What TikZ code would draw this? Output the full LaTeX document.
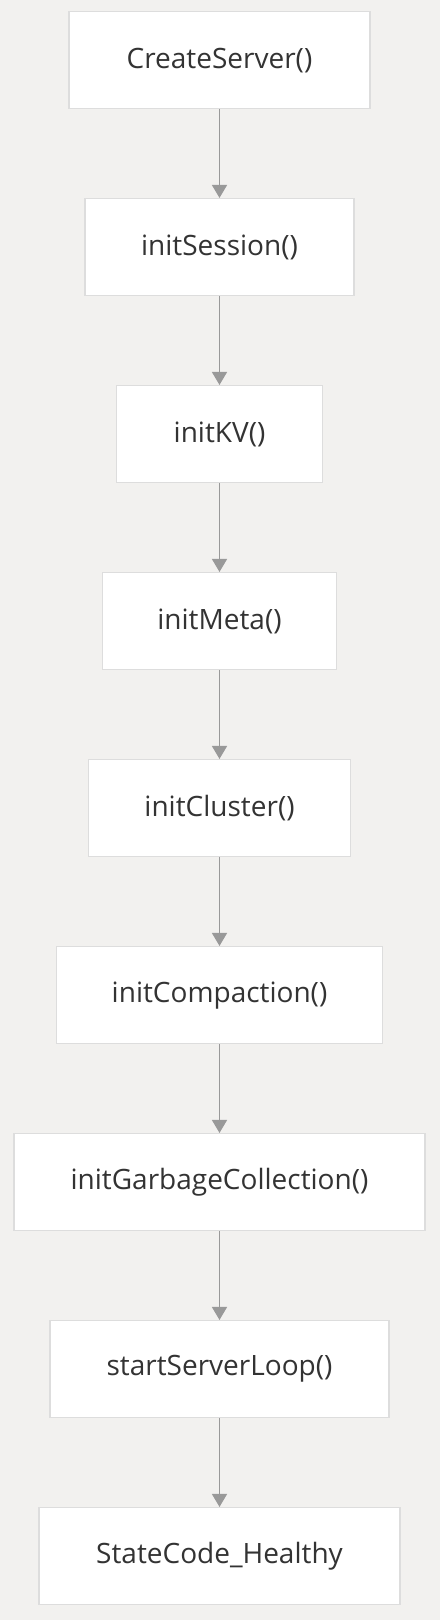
\documentclass[tikz,border=0pt]{standalone}
\usepackage{fontspec}
\setmainfont{Open Sans}
\usetikzlibrary{arrows.meta}
\definecolor{bgcol}{HTML}{F2F1EF}
\definecolor{boxline}{HTML}{DDDDDD}
\definecolor{arrowcol}{HTML}{999999}
\definecolor{txtcol}{HTML}{333333}
\begin{document}
\begin{tikzpicture}[x=1pt,y=1pt,
  stepbox/.style={draw=boxline, line width=1.5pt, fill=white, minimum height=97pt,
    inner sep=0pt, text=txtcol, font=\fontsize{28}{33}\selectfont},
  flow/.style={draw=arrowcol, line width=1.5pt, -{Triangle[width=15pt,length=13pt]}}]
\fill[bgcol] (0,0) rectangle (440,-1620);
\useasboundingbox (0,0) rectangle (440,-1620);
\node[stepbox, minimum width=301pt] (n1) at (219.5,-60.2) {CreateServer()};
\node[stepbox, minimum width=269pt] (n2) at (219.5,-247.2) {initSession()};
\node[stepbox, minimum width=205.6pt] (n3) at (219.5,-434.2) {initKV()};
\node[stepbox, minimum width=233.6pt] (n4) at (219.5,-621.2) {initMeta()};
\node[stepbox, minimum width=261.6pt] (n5) at (219.5,-808.2) {initCluster()};
\node[stepbox, minimum width=326.3pt] (n6) at (219.5,-995.2) {initCompaction()};
\node[stepbox, minimum width=411pt] (n7) at (219.5,-1182.2) {initGarbageCollection()};
\node[stepbox, minimum width=339pt] (n8) at (219.5,-1369.2) {startServerLoop()};
\node[stepbox, minimum width=361pt] (n9) at (219.5,-1556.2) {StateCode\_Healthy};
\foreach \a/\b in {n1/n2,n2/n3,n3/n4,n4/n5,n5/n6,n6/n7,n7/n8,n8/n9}
  \draw[flow] (\a.south) -- (\b.north);
\end{tikzpicture}
\end{document}
